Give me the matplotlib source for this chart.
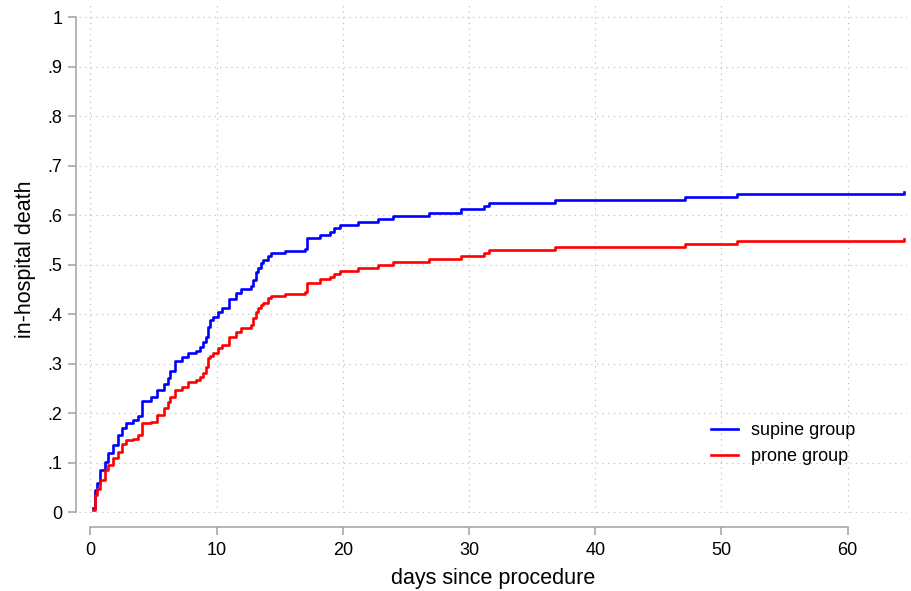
import matplotlib
matplotlib.use('Agg')
import matplotlib.pyplot as plt

plt.rcParams['font.family'] = ['Liberation Sans', 'DejaVu Sans']

# failure times (days) and cumulative in-hospital death for both groups
days = [0.2, 0.36, 0.55, 0.8, 1.13, 1.4, 1.8, 2.2, 2.5, 2.85, 3.4, 3.8, 4.1, 4.8,
        5.3, 5.8, 6.15, 6.3, 6.7, 7.3, 7.7, 8.4, 8.65, 8.9, 9.2, 9.3, 9.5, 9.7,
        10.1, 10.4, 10.95, 11.55, 11.95, 12.75, 12.9, 13.15, 13.3, 13.5, 13.7,
        14.05, 14.3, 15.45, 17.0, 17.2, 18.2, 18.95, 19.3, 19.8, 21.2, 22.8,
        24.0, 26.8, 29.4, 31.2, 31.6, 36.8, 47.1, 51.25, 64.5]
supine = [0.008, 0.045, 0.059, 0.085, 0.102, 0.120, 0.136, 0.156, 0.170, 0.180,
          0.186, 0.195, 0.225, 0.233, 0.247, 0.259, 0.271, 0.286, 0.306, 0.314,
          0.321, 0.326, 0.335, 0.345, 0.355, 0.375, 0.388, 0.395, 0.404, 0.412,
          0.431, 0.444, 0.451, 0.457, 0.469, 0.486, 0.493, 0.503, 0.510, 0.518,
          0.523, 0.528, 0.532, 0.555, 0.561, 0.567, 0.574, 0.580, 0.587, 0.593,
          0.599, 0.605, 0.612, 0.618, 0.625, 0.631, 0.637, 0.644, 0.648]
prone = [0.005, 0.035, 0.048, 0.065, 0.085, 0.095, 0.109, 0.122, 0.139, 0.146,
         0.149, 0.156, 0.180, 0.183, 0.197, 0.210, 0.222, 0.232, 0.247, 0.254,
         0.263, 0.267, 0.274, 0.282, 0.294, 0.311, 0.316, 0.321, 0.331, 0.338,
         0.355, 0.365, 0.372, 0.378, 0.392, 0.405, 0.412, 0.418, 0.422, 0.432,
         0.437, 0.441, 0.446, 0.464, 0.471, 0.476, 0.481, 0.488, 0.494, 0.500,
         0.506, 0.512, 0.518, 0.524, 0.531, 0.537, 0.542, 0.549, 0.553]

xticks = [0, 10, 20, 30, 40, 50, 60]
yticks = [0, .1, .2, .3, .4, .5, .6, .7, .8, .9, 1]
ylabels = ['0', '.1', '.2', '.3', '.4', '.5', '.6', '.7', '.8', '.9', '1']

fig = plt.figure(figsize=(9.11, 5.91), dpi=100)
ax = fig.add_axes([0.0867, 0.1315, 0.9089, 0.860])

ax.step(days, supine, where='post', color='#0000ff', lw=1.9, label='supine group')
ax.step(days, prone, where='post', color='#ff0000', lw=1.9, label='prone group')

ax.set_xlim(-0.9, 64.7)
ax.set_ylim(-0.002, 1.025)
ax.set_xticks(xticks)
ax.set_yticks(yticks)
ax.set_yticklabels(ylabels)

ax.grid(True, color='#c0c0c0', lw=0.9, linestyle=(0, (1, 3.5)))
ax.set_axisbelow(True)

for side in ['top', 'right']:
    ax.spines[side].set_visible(False)
for side in ['left', 'bottom']:
    ax.spines[side].set_color('#a0a0a0')
    ax.spines[side].set_linewidth(1.1)
ax.spines['left'].set_position(('outward', 2.2))
ax.spines['bottom'].set_position(('outward', 9.6))
ax.spines['left'].set_bounds(0, 1)
ax.spines['bottom'].set_bounds(0, 60)

ax.tick_params(axis='both', colors='#a0a0a0', labelcolor='black', length=5.8,
               width=1.1, labelsize=13, pad=4)
ax.tick_params(axis='x', pad=5)

ax.set_xlabel('days since procedure', fontsize=15.5, labelpad=7)
ax.set_ylabel('in-hospital death', fontsize=15.5, labelpad=8)

ax.legend(loc='center left', bbox_to_anchor=(0.781, 0.249),
          bbox_transform=fig.transFigure, frameon=False, fontsize=13,
          handlelength=1.45, handletextpad=0.75, labelspacing=0.5,
          borderpad=0, borderaxespad=0)

plt.savefig('out.png', dpi=100)
